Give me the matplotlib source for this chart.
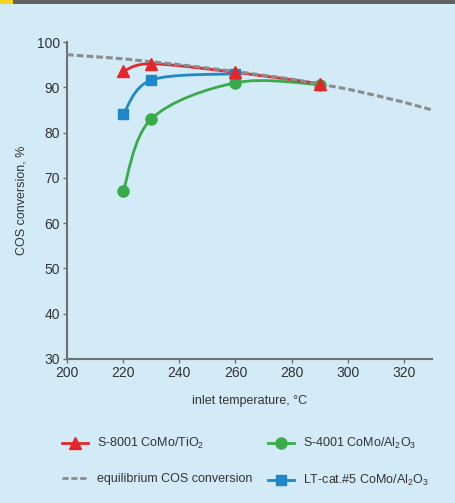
import matplotlib
matplotlib.use("Agg")
import matplotlib.pyplot as plt
from matplotlib.path import Path
from matplotlib.patches import PathPatch, Rectangle
from matplotlib.lines import Line2D

plt.rcParams['font.family'] = ['Liberation Sans', 'DejaVu Sans']
plt.rcParams['mathtext.fontset'] = 'custom'
plt.rcParams['mathtext.rm'] = 'Liberation Sans'

# data
temp_s8001 = [220, 230, 260, 290]
conv_s8001 = [93.5, 95.2, 93.3, 90.8]

temp_s4001 = [220, 230, 260, 290]
conv_s4001 = [67.0, 83.0, 91.0, 90.6]

temp_lt5 = [220, 230, 260]
conv_lt5 = [84.0, 91.6, 93.0]

temp_eq = [200, 220, 240, 260, 280, 300, 310, 320, 330]
conv_eq = [97.2, 96.3, 95.0, 93.5, 91.8, 89.6, 88.2, 86.7, 85.0]

x_ticks = [200, 220, 240, 260, 280, 300, 320]
y_ticks = [30, 40, 50, 60, 70, 80, 90, 100]

red = '#e4262b'
green = '#3aab4b'
blue = '#1f88c8'
grey = '#8c8c8c'
bg = '#d3eaf7'
txt = '#333333'


def smooth_path(xs, ys):
    # Catmull-Rom style bezier through the measured points
    verts = [(xs[0], ys[0])]
    codes = [Path.MOVETO]
    n = len(xs)
    for i in range(n - 1):
        x0, y0 = (xs[i - 1], ys[i - 1]) if i > 0 else (xs[i], ys[i])
        x1, y1 = xs[i], ys[i]
        x2, y2 = xs[i + 1], ys[i + 1]
        x3, y3 = (xs[i + 2], ys[i + 2]) if i + 2 < n else (x2, y2)
        c1 = (x1 + (x2 - x0) / 6, y1 + (y2 - y0) / 6)
        c2 = (x2 - (x3 - x1) / 6, y2 - (y3 - y1) / 6)
        verts += [c1, c2, (x2, y2)]
        codes += [Path.CURVE4] * 3
    return Path(verts, codes)


fig = plt.figure(figsize=(4.56, 5.03), dpi=100, facecolor=bg)
fig.patches.append(Rectangle((0, 1 - 4 / 503), 1, 4 / 503, transform=fig.transFigure,
                             facecolor='#636363', edgecolor='none'))
fig.patches.append(Rectangle((0, 1 - 4 / 503), 13 / 456, 4 / 503, transform=fig.transFigure,
                             facecolor='#f2d51c', edgecolor='none'))

ax = fig.add_axes([67 / 456, 1 - 359 / 503, 365 / 456, 317 / 503])
ax.set_facecolor(bg)
ax.set_xlim(200, 330)
ax.set_ylim(30, 100)

for xs, ys, c, z in [(temp_s4001, conv_s4001, green, 2),
                     (temp_lt5, conv_lt5, blue, 3),
                     (temp_s8001, conv_s8001, red, 4)]:
    ax.add_patch(PathPatch(smooth_path(xs, ys), facecolor='none', edgecolor=c,
                           lw=2.0, zorder=z, capstyle='round'))

ax.plot(temp_eq, conv_eq, color=grey, lw=2.2, ls=(0, (2.2, 1.0)), zorder=5)

ax.plot(temp_s4001, conv_s4001, 'o', color=green, ms=8, zorder=6)
ax.plot(temp_lt5, conv_lt5, 's', color=blue, ms=7.5, zorder=7)
ax.plot(temp_s8001, conv_s8001, '^', color=red, ms=8.5, zorder=8)

ax.set_xticks(x_ticks)
ax.set_yticks(y_ticks)
ax.tick_params(colors=txt, labelsize=10, length=3, width=1, color='#707070', pad=2)
for s in ['top', 'right']:
    ax.spines[s].set_visible(False)
for s in ['left', 'bottom']:
    ax.spines[s].set_color('#707070')
    ax.spines[s].set_linewidth(1.5)

ax.set_xlabel('inlet temperature, °C', fontsize=9, color=txt, labelpad=11)
ax.set_ylabel('COS conversion, %', fontsize=9, color=txt, labelpad=7)

left_handles = [
    Line2D([], [], color=red, lw=2, marker='^', ms=8),
    Line2D([], [], color=grey, lw=2, ls=(0, (2.2, 1.0))),
]
left_labels = [r'S-8001 CoMo/TiO$_2$', 'equilibrium COS conversion']
right_handles = [
    Line2D([], [], color=green, lw=2, marker='o', ms=8),
    Line2D([], [], color=blue, lw=2, marker='s', ms=7),
]
right_labels = [r'S-4001 CoMo/Al$_2$O$_3$', r'LT-cat.#5 CoMo/Al$_2$O$_3$']

leg_kw = dict(loc='upper left', frameon=False, fontsize=9, handlelength=2.1,
              handletextpad=0.7, labelspacing=1.75, labelcolor=txt,
              borderaxespad=0, borderpad=0)
fig.legend(left_handles, left_labels, bbox_to_anchor=(62 / 456, 1 - 436 / 503), **leg_kw)
fig.legend(right_handles, right_labels, bbox_to_anchor=(268 / 456, 1 - 436 / 503), **leg_kw)

fig.savefig('out.png', dpi=100, facecolor=bg)
